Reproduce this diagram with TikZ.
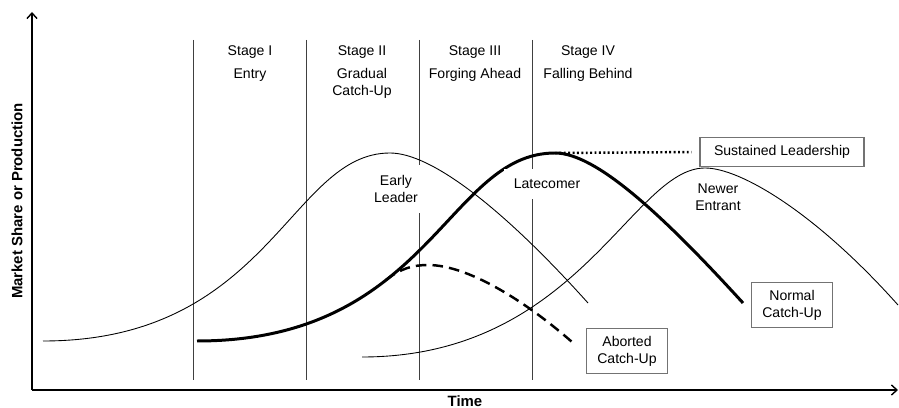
\documentclass[tikz,border=0pt]{standalone}
\usepackage{fontspec}
\setmainfont{Liberation Sans}
\usetikzlibrary{arrows.meta}

\begin{document}
\begin{tikzpicture}[x=0.2mm,y=-0.2mm,line width=0.6pt,
  font=\fontsize{8}{9.6}\selectfont,
  axis/.style={line width=0.8pt,-{Straight Barb[length=1.1mm,width=2mm]}},
  divider/.style={line width=0.5pt,black!75},
  thincurve/.style={line width=0.5pt},
  thickcurve/.style={line width=1.7pt},
  abortcurve/.style={line width=1.4pt,dash pattern=on 6pt off 3.5pt},
  holdline/.style={line width=1.4pt,dash pattern=on 1.1pt off 1.4pt},
  stagelabel/.style={anchor=base},
  curvelabel/.style={align=center},
  cutlabel/.style={curvelabel,fill=white,inner sep=2mm},
  tagbox/.style={draw=black!55,line width=0.6pt,fill=white,align=center,inner xsep=2.1mm,inner ysep=1.5mm},
  axislabel/.style={font=\fontsize{8.5}{10}\selectfont\bfseries}]
  \useasboundingbox (0,0) rectangle (899,408);
  % axes
  \coordinate (origin) at (32,390);
  \coordinate (ytop) at (32,12);
  \coordinate (xend) at (898,390);
  \draw[axis] (origin) -- (ytop);
  \draw[axis] (origin) -- (xend);
  \node[axislabel,rotate=90] (share) at (17,201) {Market Share or Production};
  \node[axislabel] (time) at (465,401) {Time};
  % stage dividers and headings
  \foreach \x in {193,306,419,532}{ \draw[divider] (\x,40) -- (\x,380); }
  \foreach \x/\num/\phase [count=\i] in {250/I/Entry,362/II/Gradual,475/III/Forging Ahead,588/IV/Falling Behind}{
    \node[stagelabel] (stage\i) at (\x,55.5) {Stage \num};
    \node[stagelabel] (phase\i) at (\x,79) {\phase};
  }
  \node[stagelabel] (phase2b) at (362,96) {Catch-Up};
  % early leader
  \draw[thincurve] (43,341) .. controls (270,341) and (290,153) .. (390,153)
    .. controls (430,153) and (500,205) .. (588,303);
  % newer entrant
  \draw[thincurve] (362,357) .. controls (578,357) and (632,168) .. (705,168)
    .. controls (740,168) and (815,212) .. (898,305);
  % latecomer
  \draw[thickcurve] (197,341) .. controls (430,341) and (447,153) .. (555,153)
    .. controls (595,153) and (660,212) .. (743,303);
  % aborted catch-up
  \draw[abortcurve] (386,280) .. controls (400,269) and (412,265) .. (428,265)
    .. controls (470,265) and (530,305) .. (572,342);
  % curve labels
  \node[cutlabel] (early) at (396,189) {Early\\Leader};
  \node[cutlabel] (late) at (547,184) {Latecomer};
  \node[curvelabel] (newer) at (718,197) {Newer\\Entrant};
  % outcome boxes
  \node[tagbox,inner xsep=2.8mm] (sustained) at (782,152) {Sustained Leadership};
  \node[tagbox] (normal) at (792,305) {Normal\\Catch-Up};
  \node[tagbox] (aborted) at (627,351) {Aborted\\Catch-Up};
  \coordinate (latepeak) at (555,153);
  \draw[holdline,shorten >=1.6mm] (latepeak) -- (sustained.west);
\end{tikzpicture}
\end{document}
